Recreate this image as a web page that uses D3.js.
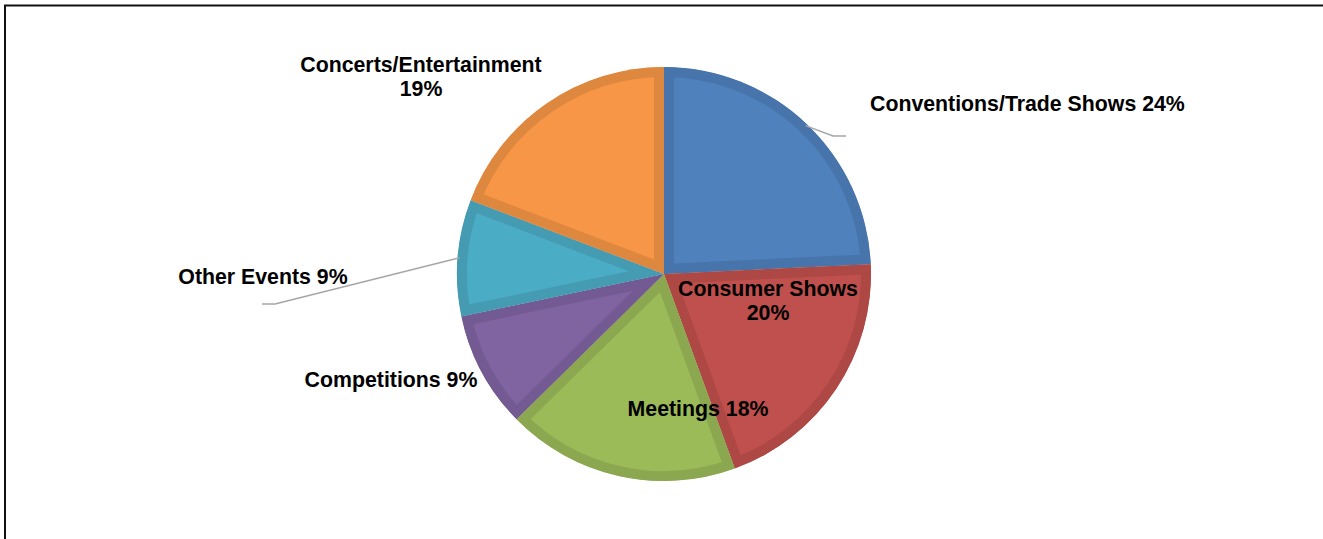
<!DOCTYPE html>
<html>
<head>
<meta charset="utf-8">
<script src="https://cdn.jsdelivr.net/npm/d3@7"></script>
<style>
  html, body { margin: 0; padding: 0; background: #fff; }
  svg { display: block; }
  .lbl { font-family: "Liberation Sans", Arial, sans-serif; font-weight: bold; font-size: 21.3px; fill: #000; }
</style>
</head>
<body>
<div id="chart"></div>
<script>
// chart data
const categories = ["Conventions/Trade Shows", "Consumer Shows", "Meetings", "Competitions", "Other Events", "Concerts/Entertainment"];
const shares = [24, 20, 18, 9, 9, 19];
const fills = ["#4F81BD", "#C0504D", "#9BBB59", "#8064A2", "#4BACC6", "#F79646"];
const borders = ["#4774AA", "#AD4845", "#8BA850", "#735A92", "#449BB2", "#DE873F"];

const WIDTH = 1323, HEIGHT = 539;
const CX = 664, CY = 274, R = 207;
const BORDER = 10;

// label layout: text lines + anchor point, leader end points (if any)
const labelLayout = [
  { lines: ["Conventions/Trade Shows 24%"], x: 870, y: 111, anchor: "start", leader: [[833, 136], [846, 136]] },
  { lines: ["Consumer Shows", "20%"], x: 768, y: 296, anchor: "middle" },
  { lines: ["Meetings 18%"], x: 698, y: 416, anchor: "middle" },
  { lines: ["Competitions 9%"], x: 391, y: 387, anchor: "middle" },
  { lines: ["Other Events 9%"], x: 263, y: 284, anchor: "middle", leader: [[275, 304], [262, 304]] },
  { lines: ["Concerts/Entertainment", "19%"], x: 421, y: 72, anchor: "middle" }
];

const svg = d3.select("#chart").append("svg")
  .attr("width", WIDTH).attr("height", HEIGHT);

// frame lines (top + left)
svg.append("line").attr("x1", 4).attr("x2", WIDTH).attr("y1", 5.5).attr("y2", 5.5)
  .attr("stroke", "#111").attr("stroke-width", 2);
svg.append("line").attr("x1", 5).attr("x2", 5).attr("y1", 5).attr("y2", HEIGHT)
  .attr("stroke", "#111").attr("stroke-width", 2);

const pie = d3.pie().sort(null).value(d => d)(shares);
const arc = d3.arc().innerRadius(0).outerRadius(R);

const g = svg.append("g").attr("transform", `translate(${CX},${CY})`);
const defs = svg.append("defs");

pie.forEach((p, i) => {
  defs.append("clipPath").attr("id", "clip" + i)
    .append("path").attr("d", arc(p));
  g.append("path")
    .attr("d", arc(p))
    .attr("fill", fills[i])
    .attr("stroke", borders[i])
    .attr("stroke-width", BORDER * 2)
    .attr("stroke-linejoin", "miter")
    .attr("clip-path", `url(#clip${i})`);
});

// leader lines
pie.forEach((p, i) => {
  const L = labelLayout[i];
  if (!L.leader) return;
  const a = (p.startAngle + p.endAngle) / 2;
  const start = [CX + Math.sin(a) * (R - 2), CY - Math.cos(a) * (R - 2)];
  const pts = [start].concat(L.leader);
  svg.append("path")
    .attr("d", d3.line()(pts))
    .attr("fill", "none")
    .attr("stroke", "#A6A6A6")
    .attr("stroke-width", 1.5);
});

// labels
labelLayout.forEach((L, i) => {
  const t = svg.append("text").attr("class", "lbl")
    .attr("x", L.x).attr("y", L.y)
    .attr("text-anchor", L.anchor);
  L.lines.forEach((s, k) => {
    t.append("tspan").attr("x", L.x).attr("dy", k === 0 ? 0 : 23.5).text(s);
  });
});
</script>
</body>
</html>
